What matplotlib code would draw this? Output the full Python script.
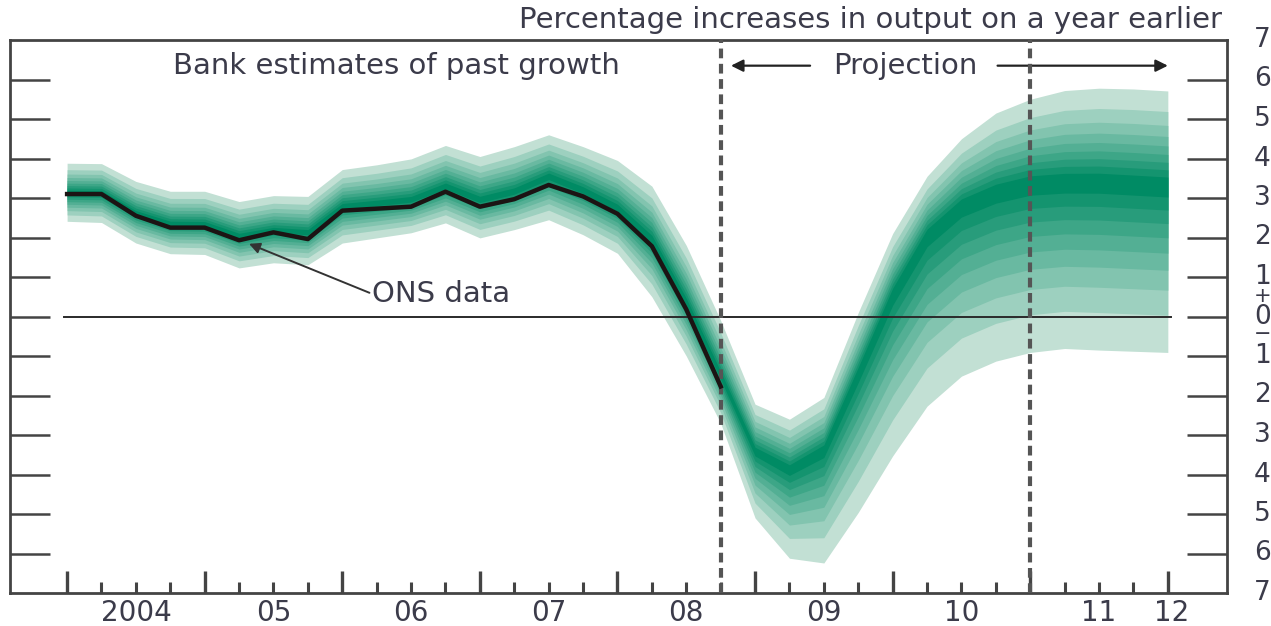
import numpy as np
import matplotlib
matplotlib.use("Agg")
import matplotlib.pyplot as plt
from matplotlib.transforms import blended_transform_factory
from statistics import NormalDist

plt.rcParams['font.family'] = ['DejaVu Sans']
plt.rcParams['lines.scale_dashes'] = False

# quarters from 2004 Q1 (index 0) to 2012 Q1 (index 32)
quarters = np.arange(33)

# ONS data, 2004 Q1 - 2008 Q4 (per cent, year on year)
ons = [3.10, 3.10, 2.55, 2.25, 2.25, 1.93, 2.13, 1.96, 2.68, 2.73,
       2.78, 3.16, 2.78, 2.97, 3.33, 3.04, 2.60, 1.78, 0.18, -1.77]

# fan: central path, outer upper (95th) and outer lower (5th) edges
central = [3.14, 3.13, 2.62, 2.35, 2.34, 2.04, 2.19, 2.13, 2.79, 2.87,
           2.96, 3.30, 2.96, 3.17, 3.55, 3.20, 2.75, 1.95, 0.35, -1.50,
           -3.40, -3.85, -3.35, -1.40, 0.60, 2.10, 2.85, 3.20, 3.40, 3.45,
           3.45, 3.40, 3.35]
upper = [3.88, 3.87, 3.42, 3.17, 3.17, 2.91, 3.06, 3.04, 3.72, 3.84,
         3.99, 4.33, 4.05, 4.30, 4.60, 4.30, 3.95, 3.30, 1.80, -0.10,
         -2.22, -2.60, -2.05, 0.10, 2.10, 3.55, 4.50, 5.15, 5.50, 5.72,
         5.78, 5.76, 5.71]
lower = [2.41, 2.38, 1.86, 1.59, 1.57, 1.23, 1.36, 1.31, 1.86, 1.99,
         2.12, 2.37, 1.99, 2.20, 2.45, 2.07, 1.60, 0.50, -1.00, -2.70,
         -5.10, -6.12, -6.24, -4.96, -3.53, -2.27, -1.51, -1.13, -0.91, -0.81,
         -0.85, -0.88, -0.91]

year_labels = ['2004', '05', '06', '07', '08', '09', '10', '11', '12']
year_label_pos = [2, 6, 10, 14, 18, 22, 26, 30, 32.1]
y_values = list(range(7, -8, -1))
dashed_at = [19, 28]

text_col = '#3b3b4a'
light = np.array([194, 224, 212]) / 255
dark = np.array([0, 139, 100]) / 255

fig = plt.figure(figsize=(12.71, 6.26), dpi=100)
ax = fig.add_axes([10 / 1271, 1 - 593 / 626, 1217 / 1271, 553 / 626])
ax.set_xlim(-1.66, 33.72)
ax.set_ylim(-7, 7)

# fan bands: deciles of a two-sided distribution, outermost first
c = np.array(central)
up = np.array(upper)
lo = np.array(lower)
probs = [0.95 - 0.05 * k for k in range(9)]
z0 = NormalDist().inv_cdf(0.95)
for k, p in enumerate(probs):
    r = NormalDist().inv_cdf(p) / z0
    col = light + (dark - light) * (k / 8) ** 0.8
    ax.fill_between(quarters, c - (c - lo) * r, c + (up - c) * r,
                    color=col, lw=0, zorder=1)

# zero line
ax.plot([-0.1, 32.1], [0, 0], color='#2a2a2a', lw=1.4, zorder=3)

# dashed lines marking the projection
for xd in dashed_at:
    ax.plot([xd, xd], [-7, 7], color='#555555', lw=3, dashes=[7, 4],
            zorder=4, solid_capstyle='butt', dash_capstyle='butt')

# ONS data
ax.plot(quarters[:len(ons)], ons, color='#1c1414', lw=3.2, zorder=5,
        solid_joinstyle='round')

# ticks
ax.set_xticks(np.arange(0, 33, 4))
ax.set_xticks([q for q in quarters if q % 4 != 0], minor=True)
ax.tick_params(axis='x', which='major', direction='in', length=16, width=2.4,
               color='#444444', labelbottom=False)
ax.tick_params(axis='x', which='minor', direction='in', length=8, width=2.2,
               color='#444444')
ax.set_yticks(range(-6, 7))
ax.tick_params(axis='y', which='major', direction='in', length=29, width=1.8,
               color='#444444', left=True, right=True,
               labelleft=False, labelright=False)

for s in ax.spines.values():
    s.set_color('#444444')
    s.set_linewidth(2.0)

fs = 21
tb = blended_transform_factory(ax.transData, ax.transAxes)
for lab, xp in zip(year_labels, year_label_pos):
    ax.text(xp, -0.037, lab, transform=tb, ha='center', va='center',
            fontsize=20, color=text_col)

tr = blended_transform_factory(ax.transAxes, ax.transData)
for v in y_values:
    ax.text(1.029, v, str(abs(v)), transform=tr, ha='center', va='center',
            fontsize=19, color=text_col)
ax.text(1.029, 0.52, '+', transform=tr, ha='center', va='center',
        fontsize=15, color=text_col)
ax.text(1.029, -0.44, '\u2212', transform=tr, ha='center', va='center',
        fontsize=15, color=text_col)

# annotations
ax.text(9.57, 6.35, 'Bank estimates of past growth', ha='center',
        va='center', fontsize=fs, color=text_col)
ax.text(24.36, 6.35, 'Projection', ha='center', va='center',
        fontsize=fs, color=text_col)
arrow_kw = dict(arrowstyle='-|>', color='#222222', lw=1.6,
                mutation_scale=18, shrinkA=0, shrinkB=0)
ax.annotate('', xy=(19.3, 6.35), xytext=(21.6, 6.35), arrowprops=arrow_kw)
ax.annotate('', xy=(32.0, 6.35), xytext=(27.05, 6.35), arrowprops=arrow_kw)

ax.text(8.87, 0.56, 'ONS data', ha='left', va='center', fontsize=fs,
        color=text_col)
ax.annotate('', xy=(5.29, 1.84), xytext=(8.79, 0.60),
            arrowprops=dict(arrowstyle='-|>', color='#333333', lw=1.4,
                            mutation_scale=16, shrinkA=0, shrinkB=0),
            zorder=6)

fig.text(1222 / 1271, 1 - 20 / 626,
         'Percentage increases in output on a year earlier',
         ha='right', va='center', fontsize=fs, color=text_col)

fig.savefig('out.png', dpi=100)
